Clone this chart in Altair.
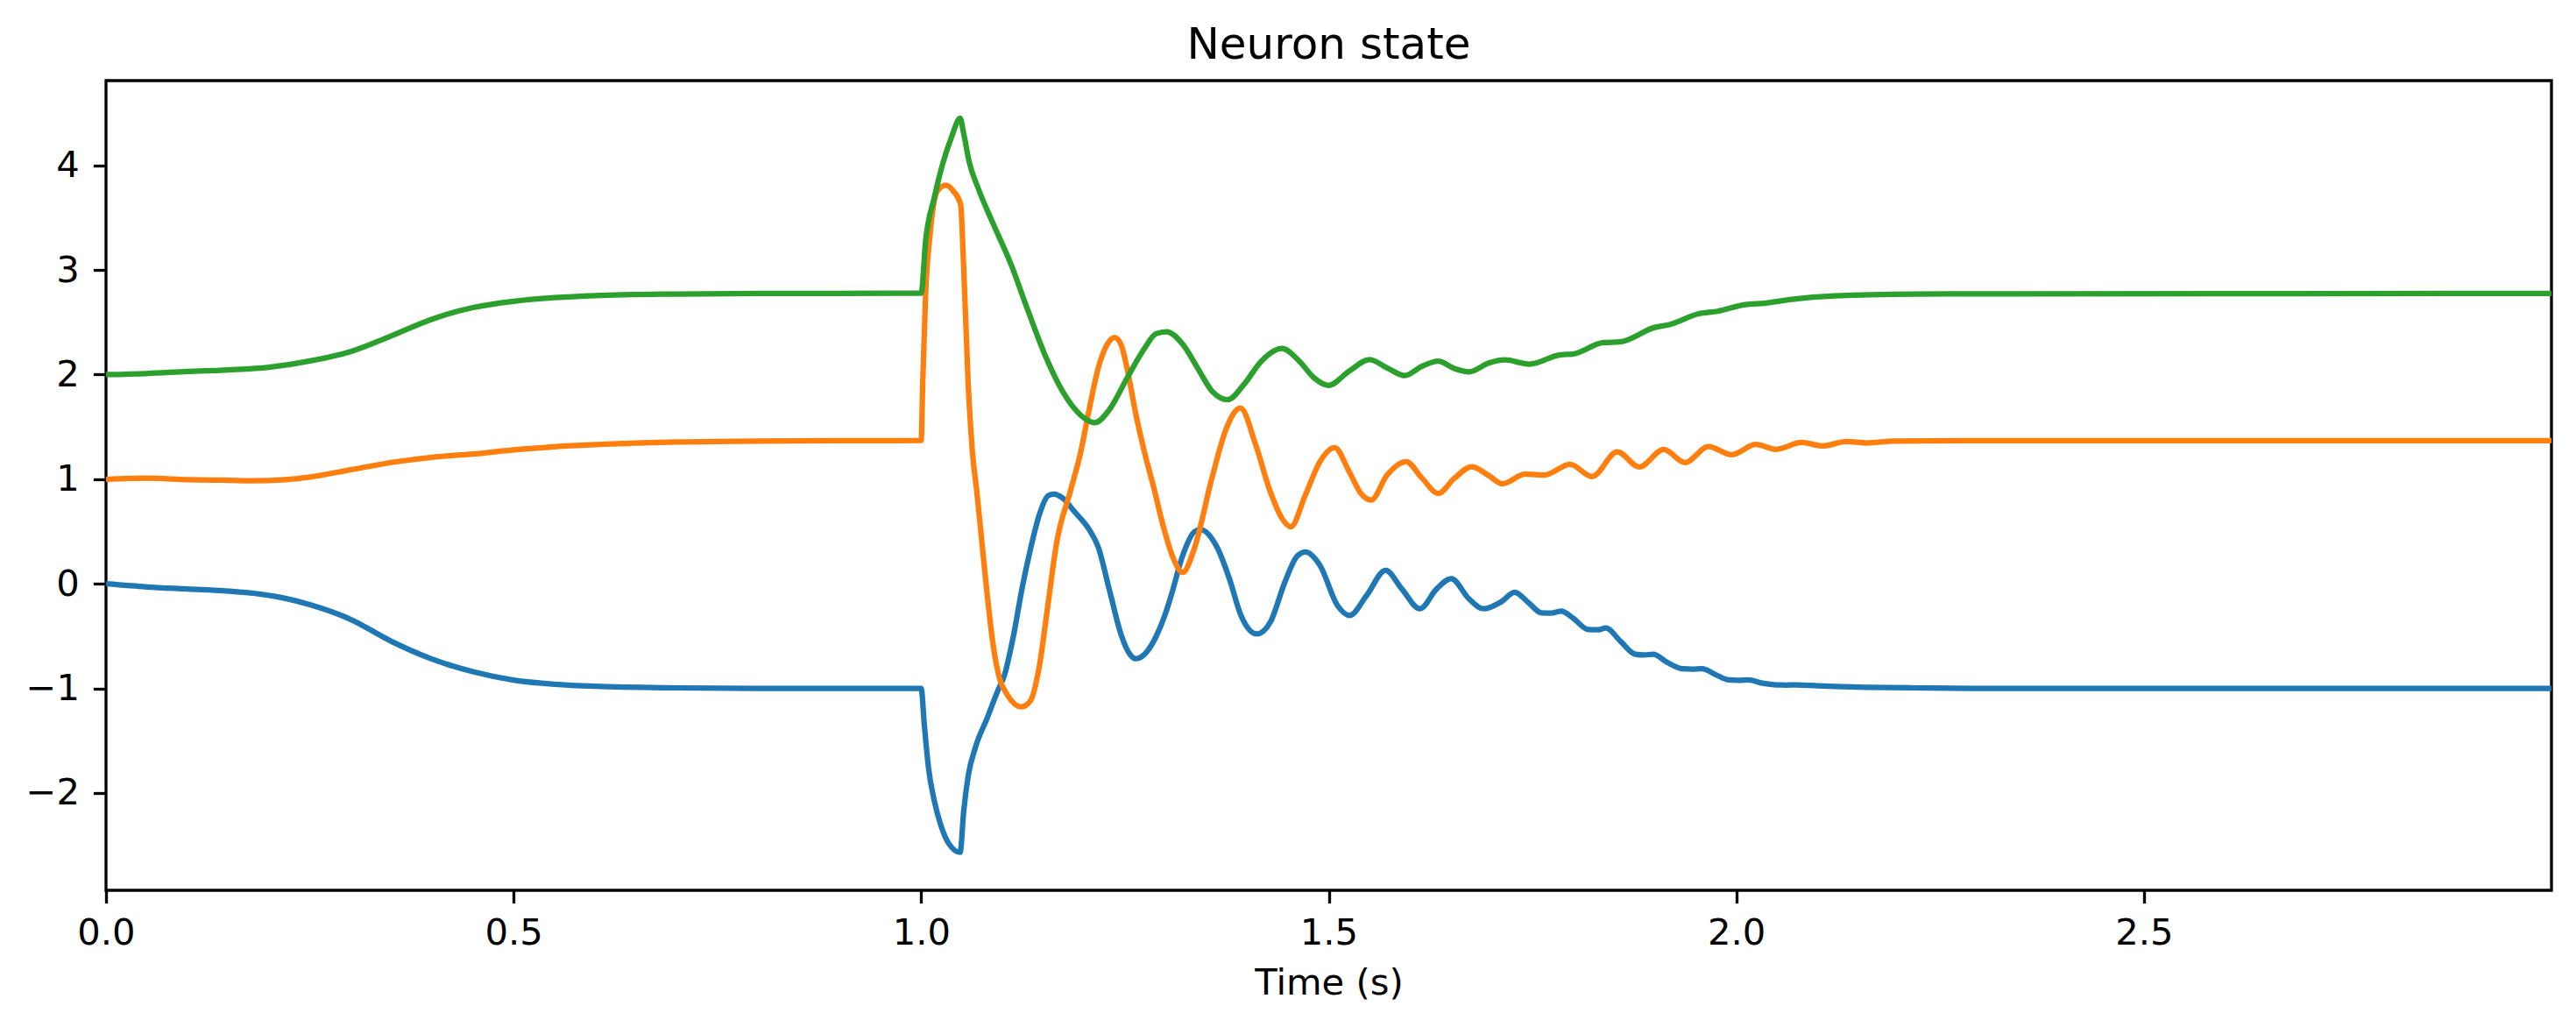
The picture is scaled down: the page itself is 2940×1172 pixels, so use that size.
import altair as alt
import pandas as pd

# ---- data ----
blue_t = [0.0, 0.05, 0.1, 0.15, 0.19, 0.22, 0.25, 0.3, 0.35, 0.4, 0.45, 0.5, 0.55, 0.6, 0.7, 0.8, 1.0,
          1.0038, 1.009, 1.016, 1.0234, 1.034, 1.0478, 1.0521, 1.0575, 1.0665, 1.0808, 1.0933, 1.1023,
          1.113, 1.124, 1.134, 1.145, 1.156, 1.163, 1.174, 1.188, 1.206, 1.217, 1.231, 1.245, 1.256,
          1.263, 1.274, 1.288, 1.299, 1.3064, 1.3208, 1.3351, 1.3423, 1.3638, 1.3781, 1.3924, 1.412,
          1.4283, 1.4462, 1.4605, 1.4713, 1.4892, 1.5107, 1.5257, 1.5465, 1.5698, 1.5895, 1.6117,
          1.6325, 1.6504, 1.6719, 1.6898, 1.712, 1.728, 1.745, 1.761, 1.773, 1.785, 1.8, 1.818, 1.83,
          1.84, 1.858, 1.876, 1.887, 1.898, 1.915, 1.934, 1.946, 1.958, 1.975, 1.991, 2.003, 2.015,
          2.032, 2.049, 2.061, 2.073, 2.1, 2.121, 2.16, 2.217, 2.3, 2.5, 3.0]
blue_v = [0.0, -0.03, -0.05, -0.07, -0.10, -0.14, -0.20, -0.34, -0.55, -0.72, -0.84, -0.92, -0.96, -0.98, -0.995, -1.0, -1.0,
          -1.34, -1.76, -2.07, -2.29, -2.485, -2.567, -2.18, -1.845, -1.565, -1.287, -1.036, -0.87,
          -0.507, -0.034, 0.329, 0.662, 0.843, 0.857, 0.816, 0.69, 0.52, 0.356, -0.061, -0.479, -0.674,
          -0.716, -0.674, -0.507, -0.30, -0.12, 0.27, 0.497, 0.519, 0.337, 0.049, -0.303, -0.479,
          -0.367, 0.017, 0.257, 0.305, 0.177, -0.207, -0.303, -0.111, 0.129, -0.047, -0.239,
          -0.047, 0.049, -0.143, -0.239, -0.17, -0.08, -0.18, -0.278, -0.28, -0.261, -0.33, -0.437, -0.44,
          -0.423, -0.55, -0.673, -0.68, -0.673, -0.75, -0.812, -0.815, -0.812, -0.87, -0.919, -0.922, -0.919,
          -0.95, -0.966, -0.968, -0.966, -0.976, -0.982, -0.99, -0.995, -1.0, -1.0, -1.0]

orange_t = [0.0, 0.05, 0.1, 0.15, 0.18, 0.22, 0.25, 0.3, 0.35, 0.4, 0.45, 0.5, 0.55, 0.6, 0.7, 0.8, 1.0,
            1.002, 1.0055, 1.0109, 1.0198, 1.0305, 1.0395, 1.0484, 1.052, 1.0575, 1.063, 1.0682, 1.0736,
            1.0808, 1.0879, 1.095, 1.106, 1.123, 1.134, 1.145, 1.156, 1.166, 1.183, 1.1954, 1.2061, 1.217,
            1.2276, 1.2373, 1.2455, 1.2527, 1.2634, 1.2742, 1.285, 1.297, 1.309, 1.321, 1.3351, 1.3566, 1.3745,
            1.3917, 1.4104, 1.4283, 1.4427, 1.4534, 1.4713, 1.4892, 1.5072, 1.5251, 1.5394, 1.5519, 1.5716,
            1.5949, 1.6146, 1.6343, 1.6541, 1.6756, 1.6971, 1.713, 1.741, 1.765, 1.796, 1.823, 1.854, 1.881,
            1.911, 1.937, 1.966, 1.994, 2.024, 2.049, 2.08, 2.106, 2.135, 2.16, 2.193, 2.3, 3.0]
orange_v = [1.0, 1.01, 0.995, 0.99, 0.985, 0.995, 1.02, 1.09, 1.16, 1.21, 1.24, 1.28, 1.31, 1.33, 1.355, 1.365, 1.37,
            1.944, 2.779, 3.336, 3.754, 3.81, 3.754, 3.629, 3.058, 1.944, 1.248, 0.886, 0.468,
            -0.089, -0.563, -0.87, -1.065, -1.176, -1.12, -0.786, -0.173, 0.384, 0.886, 1.248, 1.666, 2.056,
            2.28, 2.355, 2.28, 2.056, 1.62, 1.25, 0.93, 0.55, 0.25, 0.11, 0.337, 1.008, 1.488,
            1.68, 1.328, 0.88, 0.625, 0.545, 0.848, 1.168, 1.302, 1.072, 0.864, 0.80, 1.04,
            1.168, 1.008, 0.864, 1.008, 1.12, 1.03, 0.956, 1.048, 1.04, 1.142, 1.025, 1.262, 1.117,
            1.284, 1.159, 1.312, 1.234, 1.332, 1.285, 1.351, 1.318, 1.36, 1.346, 1.365, 1.368, 1.368]

green_t = [0.0, 0.05, 0.1, 0.15, 0.2, 0.25, 0.3, 0.35, 0.4, 0.45, 0.5, 0.55, 0.6, 0.7, 0.8, 1.0,
           1.0055, 1.0163, 1.027, 1.0377, 1.0478, 1.052, 1.059, 1.07, 1.088, 1.11, 1.131, 1.153, 1.174,
           1.196, 1.213, 1.231, 1.253, 1.274, 1.288, 1.301, 1.321, 1.339, 1.357, 1.3762, 1.3958, 1.4173,
           1.4425, 1.464, 1.482, 1.4998, 1.5249, 1.55, 1.5716, 1.5931, 1.6146, 1.6343, 1.6541, 1.672,
           1.6971, 1.716, 1.746, 1.785, 1.799, 1.837, 1.857, 1.9, 1.919, 1.953, 1.977, 2.011, 2.035,
           2.068, 2.121, 2.217, 2.346, 3.0]
green_v = [2.0, 2.01, 2.03, 2.045, 2.07, 2.13, 2.22, 2.37, 2.53, 2.64, 2.70, 2.735, 2.755, 2.77, 2.775, 2.778,
           3.28, 3.698, 4.03, 4.28, 4.45, 4.31, 4.03, 3.78, 3.448, 3.058, 2.612, 2.167, 1.833,
           1.61, 1.541, 1.666, 1.973, 2.251, 2.39, 2.41, 2.288, 2.064, 1.84, 1.76, 1.904, 2.128,
           2.249, 2.128, 1.968, 1.897, 2.032, 2.144, 2.064, 1.99, 2.08, 2.128, 2.058, 2.026,
           2.112, 2.14, 2.10, 2.19, 2.195, 2.306, 2.312, 2.451, 2.48, 2.58, 2.605, 2.669, 2.682,
           2.719, 2.752, 2.769, 2.772, 2.775]

x_ticks = [0.0, 0.5, 1.0, 1.5, 2.0, 2.5]
y_ticks = [-2, -1, 0, 1, 2, 3, 4]

FONT = "DejaVu Sans"
FS = 41.7

x_enc = alt.X("t:Q",
              scale=alt.Scale(domain=[0, 3], nice=False, zero=False),
              axis=alt.Axis(values=x_ticks, format=".1f", title="Time (s)",
                            titleY=118, titleBaseline="alphabetic", labelFlush=False,
                            labelPadding=14))
y_enc = alt.Y("v:Q",
              scale=alt.Scale(domain=[-2.93, 4.81], nice=False, zero=False),
              axis=alt.Axis(values=y_ticks, title=None, labelPadding=16,
                            labelExpr="replace(datum.label, '-', '\u2212')"))


def layer(t, v, color):
    df = pd.DataFrame({"t": t, "v": v})
    return alt.Chart(df).mark_line(
        color=color, strokeWidth=6.25, interpolate="monotone", clip=True, strokeJoin="round"
    ).encode(x=x_enc, y=y_enc)


chart = alt.layer(
    layer(blue_t, blue_v, "#1f77b4"),
    layer(orange_t, orange_v, "#ff7f0e"),
    layer(green_t, green_v, "#2ca02c"),
).properties(
    width=2791,
    height=924,
    title=alt.TitleParams("Neuron state", font=FONT, fontSize=50, fontWeight="normal",
                          color="black", anchor="middle", baseline="alphabetic",
                          frame="group", offset=-25),
    padding={"left": 113, "top": 84, "right": 20, "bottom": 130},
    autosize=alt.AutoSizeParams(type="none"),
    background="white",
).configure_view(
    stroke="black", strokeWidth=3.3
).configure_axis(
    grid=False, domain=False,
    labelFont=FONT, labelFontSize=FS, labelColor="black",
    titleFont=FONT, titleFontSize=FS, titleFontWeight="normal", titleColor="black",
    tickColor="black", tickSize=14.6, tickWidth=3.3,
)

chart.save("out.html", embed_options={"renderer": "svg", "actions": False})
